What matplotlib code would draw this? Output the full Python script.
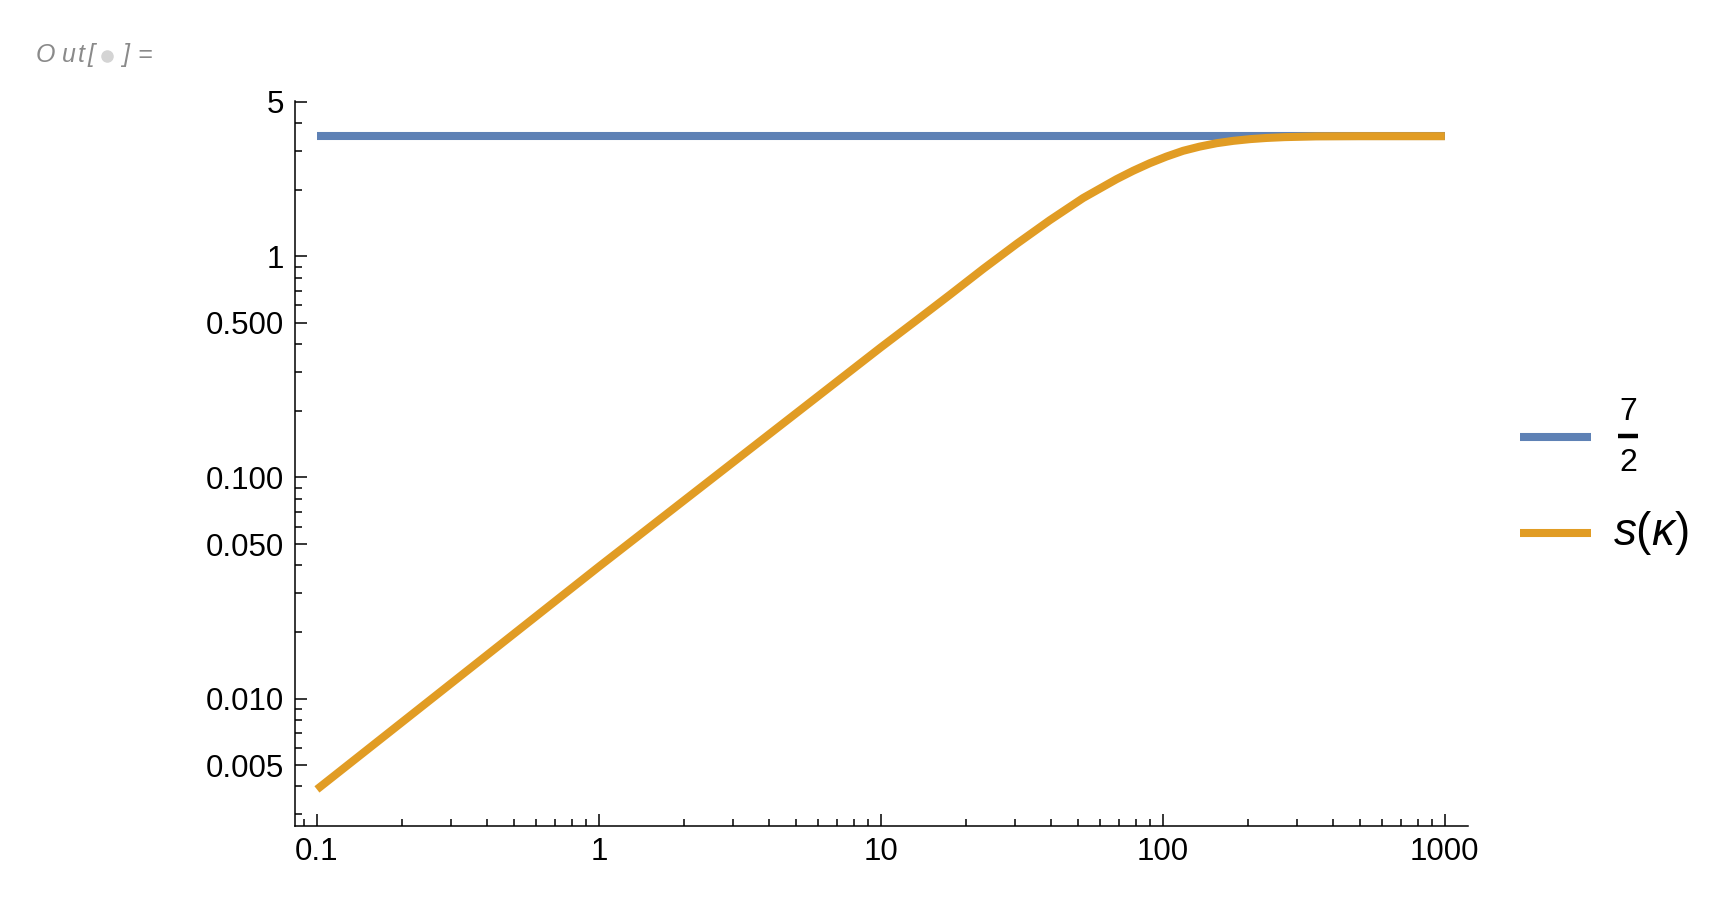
import numpy as np
import matplotlib
matplotlib.use('Agg')
import matplotlib.pyplot as plt
from matplotlib.ticker import FixedLocator, FixedFormatter, LogLocator, NullFormatter
from matplotlib.lines import Line2D

# valores (eixos log-log)
kappa = [0.1, 1.0, 10.0, 13.4, 17.6, 23.1, 30.3, 39.7, 52.1, 68.5, 78.5, 89.9, 103.0,
         118.0, 135.0, 155.0, 178.0, 204.0, 233.0, 270.0, 350.0, 500.0, 1000.0]
s_kappa = [0.00388, 0.0395, 0.388, 0.515, 0.672, 0.880, 1.140, 1.458, 1.837, 2.237, 2.442, 2.642, 2.831,
           3.006, 3.140, 3.253, 3.335, 3.395, 3.436, 3.466, 3.493, 3.50, 3.50]
const_x = [0.1, 1000.0]
const_y = [3.5, 3.5]

x_ticks = [0.1, 1, 10, 100, 1000]
x_labels = ['0.1', '1', '10', '100', '1000']
y_ticks = [0.005, 0.01, 0.05, 0.1, 0.5, 1, 5]
y_labels = ['0.005', '0.010', '0.050', '0.100', '0.500', '1', '5']

azul = '#5E81B5'
laranja = '#E19C24'

plt.rcParams['font.family'] = ['Liberation Sans', 'DejaVu Sans']
plt.rcParams['mathtext.fontset'] = 'custom'
plt.rcParams['mathtext.rm'] = 'Liberation Sans'
plt.rcParams['mathtext.it'] = 'Liberation Sans:italic'

W, H = 1724, 901
fig = plt.figure(figsize=(W / 100, H / 100), dpi=100)
ax = fig.add_axes([295 / W, 1 - 826 / H, 1173 / W, 725 / H])

ax.plot(const_x, const_y, color=azul, lw=5.8, solid_capstyle='butt')
ax.plot(kappa, s_kappa, color=laranja, lw=5.8, solid_capstyle='butt', solid_joinstyle='round')

ax.set_xscale('log')
ax.set_yscale('log')
ax.set_xlim(0.0836, 1208)
ax.set_ylim(0.00265, 5.05)

ax.xaxis.set_major_locator(FixedLocator(x_ticks))
ax.xaxis.set_major_formatter(FixedFormatter(x_labels))
ax.yaxis.set_major_locator(FixedLocator(y_ticks))
ax.yaxis.set_major_formatter(FixedFormatter(y_labels))
ax.xaxis.set_minor_locator(LogLocator(base=10, subs=np.arange(2, 10), numticks=30))
ax.yaxis.set_minor_locator(LogLocator(base=10, subs=np.arange(2, 10), numticks=30))
ax.xaxis.set_minor_formatter(NullFormatter())
ax.yaxis.set_minor_formatter(NullFormatter())

for lado in ['top', 'right']:
    ax.spines[lado].set_visible(False)
for lado in ['left', 'bottom']:
    ax.spines[lado].set_linewidth(1.1)

ax.tick_params(which='major', direction='in', length=8.6, width=1.1, labelsize=22.5, pad=8)
ax.tick_params(which='minor', direction='in', length=4.7, width=1.1)

# legenda feita a mao
def fx(px):
    return px / W

def fy(py):
    return 1 - py / H

fig.add_artist(Line2D([fx(1520), fx(1591)], [fy(437), fy(437)], color=azul, lw=5.8, solid_capstyle='butt'))
fig.add_artist(Line2D([fx(1520), fx(1591)], [fy(533), fy(533)], color=laranja, lw=5.8, solid_capstyle='butt'))
fig.text(fx(1628), fy(412), '7', fontsize=23, ha='center', va='center')
fig.add_artist(Line2D([fx(1618), fx(1638)], [fy(436), fy(436)], color='black', lw=3.2, solid_capstyle='butt'))
fig.text(fx(1628), fy(463), '2', fontsize=23, ha='center', va='center')
fig.text(fx(1613), fy(533), r'$s(\kappa)$', fontsize=33, ha='left', va='center')

# rotulo "Out[ ]="
cinza = '#8a8a8a'
for ch, px in [('O', 45), ('u', 69), ('t', 81), ('[', 91), (']', 126), ('=', 145)]:
    fig.text(fx(px), fy(55), ch, fontsize=18, color=cinza, style='italic', ha='center', va='center')
fig.add_artist(Line2D([fx(107)], [fy(56)], marker='o', markersize=8, color='#d4d4d4', lw=0))

fig.savefig('out.png', dpi=100)
